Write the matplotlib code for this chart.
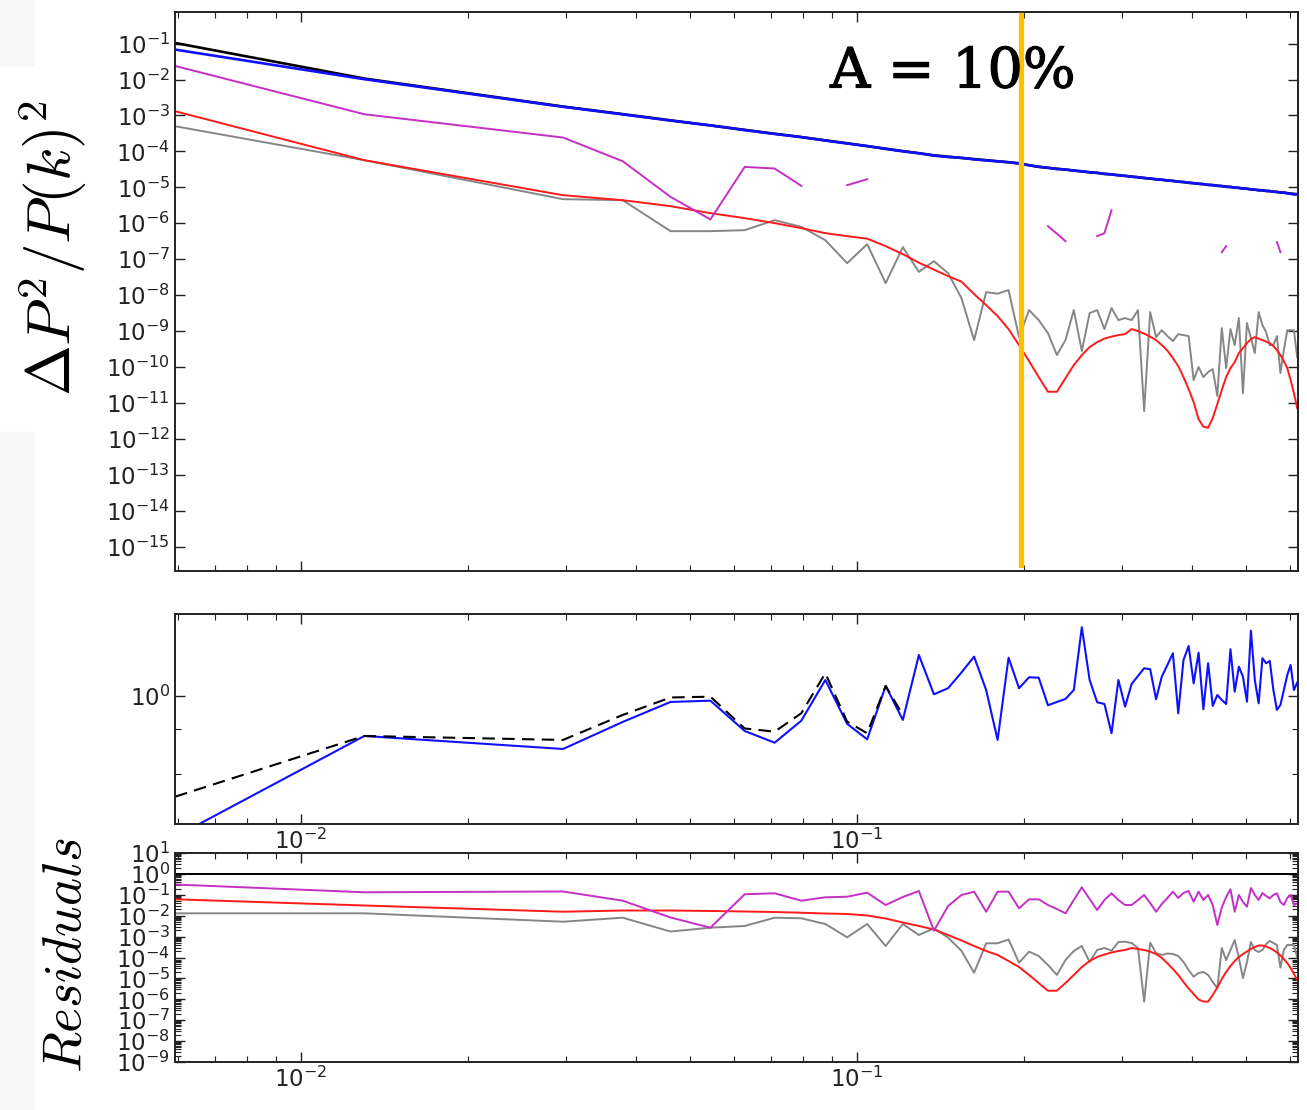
import numpy as np
import matplotlib
matplotlib.use("Agg")
import matplotlib.pyplot as plt
import matplotlib.patheffects as pe
from matplotlib.ticker import FixedLocator, NullLocator, NullFormatter, LogLocator, LogFormatterSciNotation
from matplotlib.patches import Rectangle

NAN = np.nan

# wavenumber bins [h/Mpc]
k = [0.00594, 0.0130, 0.0296, 0.0379, 0.0462, 0.0545, 0.0628, 0.0711, 0.0794, 0.0877,
     0.0960, 0.1043, 0.1126, 0.1209, 0.1292, 0.1375, 0.1458, 0.1541, 0.1624, 0.1707,
     0.1790, 0.1873, 0.1956, 0.2039, 0.2122, 0.2205, 0.2288, 0.2371, 0.2454, 0.2537,
     0.2620, 0.2703, 0.2786, 0.2869, 0.2952, 0.3035, 0.3118, 0.3201, 0.3284, 0.3367,
     0.3450, 0.3533, 0.3616, 0.3699, 0.3782, 0.3865, 0.3948, 0.4031, 0.4114, 0.4197,
     0.4280, 0.4363, 0.4446, 0.4529, 0.4612, 0.4695, 0.4778, 0.4861, 0.4944, 0.5027,
     0.5110, 0.5193, 0.5276, 0.5359, 0.5442, 0.5525, 0.5608, 0.5691, 0.5774, 0.5857,
     0.5940, 0.6023, 0.6106, 0.6189]

# fractional variance of the power spectrum
var_black = [1.04e-1, 1.064e-2, 1.77e-3, 1.09e-3, 7.31e-4, 5.27e-4, 3.98e-4, 3.10e-4, 2.51e-4, 2.03e-4,
             1.68e-4, 1.40e-4, 1.19e-4, 1.02e-4, 8.89e-5, 7.78e-5, 7.11e-5, 6.59e-5, 6.10e-5, 5.69e-5,
             5.30e-5, 4.97e-5, 4.66e-5, 4.13e-5, 3.70e-5, 3.49e-5, 3.30e-5, 3.11e-5, 2.94e-5, 2.77e-5,
             2.64e-5, 2.51e-5, 2.38e-5, 2.28e-5, 2.18e-5, 2.07e-5, 1.99e-5, 1.90e-5, 1.83e-5, 1.75e-5,
             1.68e-5, 1.62e-5, 1.56e-5, 1.50e-5, 1.44e-5, 1.40e-5, 1.35e-5, 1.30e-5, 1.26e-5, 1.22e-5,
             1.18e-5, 1.15e-5, 1.11e-5, 1.08e-5, 1.05e-5, 1.02e-5, 9.9e-6, 9.6e-6, 9.3e-6, 9.1e-6,
             8.8e-6, 8.6e-6, 8.4e-6, 8.2e-6, 8.0e-6, 7.8e-6, 7.6e-6, 7.4e-6, 7.2e-6, 7.1e-6,
             6.9e-6, 6.7e-6, 6.6e-6, 6.4e-6]

var_blue = [6.8e-2, 1.02e-2, 1.74e-3, 1.07e-3, 7.2e-4, 5.3e-4, 3.9e-4, 3.05e-4, 2.49e-4, 2.0e-4,
            1.66e-4, 1.41e-4, 1.17e-4, 1.0e-4, 8.9e-5, 7.6e-5, 7.0e-5, 6.6e-5, 6.0e-5, 5.6e-5,
            5.3e-5, 5.0e-5, 4.6e-5, 4.1e-5, 3.75e-5, 3.5e-5, 3.2e-5, 3.15e-5, 2.9e-5, 2.8e-5,
            2.6e-5, 2.55e-5, 2.35e-5, 2.3e-5, 2.15e-5, 2.1e-5, 1.97e-5, 1.92e-5, 1.8e-5, 1.77e-5,
            1.66e-5, 1.64e-5, 1.54e-5, 1.52e-5, 1.43e-5, 1.41e-5, 1.33e-5, 1.31e-5, 1.25e-5, 1.23e-5,
            1.16e-5, 1.16e-5, 1.10e-5, 1.09e-5, 1.03e-5, 1.03e-5, 9.7e-6, 9.7e-6, 9.2e-6, 9.2e-6,
            8.7e-6, 8.7e-6, 8.2e-6, 8.3e-6, 7.9e-6, 7.9e-6, 7.5e-6, 7.5e-6, 7.1e-6, 7.2e-6,
            6.8e-6, 6.6e-6, 6.3e-6, 6.5e-6]

var_red = [1.31e-3, 5.69e-5, 6.04e-6, 4.39e-6, 2.99e-6, 1.91e-6, 1.39e-6, 1.01e-6, 7.31e-7, 5.31e-7,
           4.38e-7, 3.73e-7, 2.31e-7, 1.38e-7, 8.02e-8, 5.13e-8, 3.38e-8, 2.38e-8, 1.07e-8, 5.28e-9,
           2.61e-9, 1.14e-9, 4.07e-10, 1.46e-10, 5.25e-11, 2.05e-11, 2.05e-11, 4.92e-11, 1.13e-10, 2.15e-10,
           3.58e-10, 4.93e-10, 6.18e-10, 7.02e-10, 7.73e-10, 8.24e-10, 1.14e-9, 9.98e-10, 8.51e-10, 7.02e-10,
           5.61e-10, 4.07e-10, 2.86e-10, 1.77e-10, 1.06e-10, 5.25e-11, 2.43e-11, 1.06e-11, 3.56e-12, 2.18e-12,
           2.04e-12, 3.80e-12, 9.31e-12, 2.28e-11, 5.25e-11, 9.33e-11, 1.37e-10, 2.44e-10, 3.36e-10, 4.63e-10,
           5.98e-10, 6.80e-10, 6.18e-10, 5.61e-10, 5.10e-10, 4.63e-10, 3.82e-10, 2.96e-10, 2.15e-10, 1.46e-10,
           9.33e-11, 4.34e-11, 1.88e-11, 7.21e-12]

var_gray = [5.01e-4, 5.69e-5, 4.68e-6, 4.39e-6, 6.03e-7, 6.03e-7, 6.43e-7, 1.22e-6, 7.94e-7, 3.39e-7,
            7.76e-8, 2.62e-7, 2.16e-8, 2.16e-7, 4.45e-8, 8.83e-8, 4.09e-8, 8.26e-9, 5.61e-10, 1.21e-8,
            1.10e-8, 1.38e-8, 6.80e-10, 3.83e-9, 2.02e-9, 8.79e-10, 2.15e-10, 5.61e-10, 3.83e-9, 2.77e-10,
            3.16e-9, 3.83e-9, 1.14e-9, 4.36e-9, 2.02e-9, 2.30e-9, 2.02e-9, 3.83e-9, 5.94e-12, 3.37e-9,
            6.80e-10, 1.06e-9, 7.25e-10, 5.26e-10, 8.24e-10, 7.73e-10, 7.25e-10, 4.34e-11, 9.95e-11, 5.25e-11,
            7.23e-11, 8.75e-11, 1.56e-11, 1.21e-9, 9.33e-11, 1.14e-9, 4.07e-10, 2.30e-9, 1.88e-11, 1.67e-9,
            6.38e-10, 2.44e-10, 3.37e-9, 1.47e-9, 9.36e-10, 4.07e-10, 4.07e-10, 7.25e-10, 6.78e-11, 2.96e-10,
            1.06e-9, 1.06e-9, 1.06e-9, 1.89e-10]

var_magenta = ([2.38e-2, 1.08e-3, 2.43e-4, 5.33e-5, 5.42e-6, 1.28e-6, 3.70e-5, 3.34e-5, 1.10e-5, NAN,
                1.15e-5, 1.68e-5] + [NAN] * 13 +
               [8.30e-7, 5.14e-7, 3.18e-7] + [NAN] * 3 +
               [4.38e-7, 5.31e-7, 2.31e-6] + [NAN] * 19 +
               [1.57e-7, 2.31e-7] + [NAN] * 12 +
               [2.98e-7, 1.57e-7] + [NAN] * 5)

# ratio panel
ratio_blue = [0.115, 0.541, 0.443, 0.671, 0.912, 0.930, 0.584, 0.488, 0.684, 1.278,
              0.651, 0.514, 1.166, 0.692, 1.876, 1.026, 1.126, 1.434, 1.828, 1.096,
              0.509, 1.80, 1.126, 1.332, 1.324, 0.867, 0.912, 0.955, 1.096, 2.871,
              1.28, 0.908, 0.884, 0.564, 1.278, 0.849, 1.202, 1.359, 1.53, 1.507,
              0.951, 1.345, 1.61, 1.926, 0.767, 1.738, 2.154, 1.215, 1.944, 0.815,
              1.652, 0.858, 1.015, 0.94, 0.884, 2.048, 1.068, 1.568, 1.345, 0.916,
              2.725, 1.278, 0.894, 1.784, 1.652, 1.711, 1.096, 0.807, 0.871, 1.096,
              1.38, 1.61, 1.096, 1.227]
ratio_dashed = [0.213, 0.541, 0.509, 0.747, 0.977, 0.989, 0.607, 0.578, 0.767, 1.417,
                0.674, 0.564, 1.166, 0.747]

# residuals panel
res_magenta = [0.311, 0.132, 0.144, 0.0522, 8.2e-3, 2.67e-3, 0.106, 0.118, 0.0522, 0.0759,
               0.0811, 0.126, 0.0325, 0.0785, 0.152, 1.91e-3, 0.0291, 0.0978, 0.141, 0.0155,
               0.141, 0.141, 0.0226, 0.0609, 0.0609, 0.0325, 0.0209, 0.013, 0.0564, 0.229,
               0.063, 0.0187, 0.0564, 0.118, 0.0564, 0.0325, 0.0325, 0.0564, 0.0978, 0.0405,
               0.0155, 0.0363, 0.0703, 0.141, 0.0703, 0.122, 0.152, 0.0468, 0.141, 0.0564,
               0.0978, 0.0325, 3.59e-3, 0.0252, 0.0785, 0.183, 0.0155, 0.0978, 0.0453, 0.027,
               0.211, 0.0978, 0.0564, 0.122, 0.0877, 0.068, 0.0978, 0.118, 0.0453, 0.0325,
               0.0703, 0.0978, 0.0325, 0.0392]
res_red = [0.0609, 0.0308, 0.0155, 0.0177, 0.0177, 0.0168, 0.0159, 0.015, 0.0139, 0.0127,
           0.0121, 0.0102, 7.35e-3, 4.73e-3, 3.22e-3, 2.19e-3, 1.19e-3, 6.51e-4, 3.55e-4, 2.05e-4,
           1.32e-4, 6.81e-5, 3.51e-5, 1.46e-5, 6.03e-6, 2.58e-6, 2.58e-6, 6.03e-6, 1.46e-5, 3.51e-5,
           6.81e-5, 1.06e-4, 1.39e-4, 1.73e-4, 2.05e-4, 2.29e-4, 2.85e-4, 2.55e-4, 2.29e-4, 1.90e-4,
           1.47e-4, 9.46e-5, 5.27e-5, 2.82e-5, 1.46e-5, 6.73e-6, 3.29e-6, 1.79e-6, 9.78e-7, 7.85e-7,
           7.67e-7, 1.61e-6, 3.67e-6, 9.36e-6, 2.02e-5, 3.92e-5, 6.81e-5, 1.06e-4, 1.47e-4, 1.94e-4,
           2.55e-4, 3.18e-4, 3.75e-4, 3.75e-4, 3.36e-4, 2.85e-4, 2.29e-4, 1.73e-4, 1.25e-4, 8.47e-5,
           5.46e-5, 3.15e-5, 1.63e-5, 8.38e-6]
res_gray = [0.013, 0.013, 5.16e-3, 8.02e-3, 1.75e-3, 2.67e-3, 3.22e-3, 8.02e-3, 7.51e-3, 4.01e-3,
            9.27e-4, 4.01e-3, 3.55e-4, 4.01e-3, 1.19e-3, 2.49e-3, 8.95e-4, 2.09e-4, 1.87e-5, 4.78e-4,
            4.78e-4, 7.26e-4, 5.64e-5, 1.90e-4, 1.18e-4, 4.38e-5, 1.46e-5, 7.59e-5, 2.05e-4, 3.55e-4,
            6.10e-5, 2.29e-4, 2.85e-4, 2.11e-4, 5.52e-4, 5.70e-4, 4.94e-4, 2.85e-4, 7.67e-7, 5.11e-4,
            1.64e-4, 1.32e-4, 1.55e-4, 1.47e-4, 1.18e-4, 6.10e-5, 2.52e-5, 1.21e-5, 1.81e-5, 2.02e-5,
            1.46e-5, 6.73e-6, 3.36e-6, 2.85e-4, 7.59e-5, 2.29e-4, 6.87e-4, 9.46e-5, 1.04e-5, 6.10e-5,
            5.52e-4, 2.29e-4, 1.83e-4, 2.29e-4, 4.43e-4, 6.15e-4, 4.94e-4, 3.96e-4, 3.25e-5, 2.29e-4,
            3.96e-4, 3.96e-4, 3.96e-4, 1.02e-4]
res_unity = 1.0

k_cut = 0.197

C_GRAY = "#868686"
C_MAG = "#c42fc4"
C_RED = "#ff1a1a"
C_BLUE = "#1010ff"
C_ORANGE = "#ffc000"

plt.rcParams["mathtext.fontset"] = "dejavusans"
plt.rcParams["font.family"] = "DejaVu Sans"

fig = plt.figure(figsize=(13.07, 11.10), dpi=100)
fig.patch.set_facecolor("white")

# light panels at the left margin
fig.patches.append(Rectangle((0, 1 - 65 / 1110), 33 / 1307, 65 / 1110,
                             transform=fig.transFigure, color="#f6f6f6", zorder=-5))
fig.patches.append(Rectangle((0, 0), 33 / 1307, 1 - 432 / 1110,
                             transform=fig.transFigure, color="#f6f6f6", zorder=-5))

left, width = 175 / 1307, 1123 / 1307
ax1 = fig.add_axes([left, 1 - 571 / 1110, width, 559 / 1110])
ax2 = fig.add_axes([left, 1 - 824 / 1110, width, 210 / 1110])
ax3 = fig.add_axes([left, 1 - 1062 / 1110, width, 209 / 1110])

XLIM = (0.005935, 0.621)


def style(ax):
    ax.set_xscale("log")
    ax.set_yscale("log")
    ax.set_xlim(*XLIM)
    ax.tick_params(which="both", direction="in", top=True, right=True,
                   labelsize=16.5, colors="#222222")
    ax.tick_params(which="major", length=7, width=1.0)
    ax.tick_params(which="minor", length=4, width=0.8)
    for s in ax.spines.values():
        s.set_linewidth(1.4)
        s.set_color("#222222")
    ax.xaxis.set_major_locator(FixedLocator([1e-2, 1e-1]))
    ax.xaxis.set_minor_locator(LogLocator(base=10, subs=np.arange(2, 10)))
    ax.xaxis.set_minor_formatter(NullFormatter())


for ax in (ax1, ax2, ax3):
    style(ax)

# top panel: variance
ax1.plot(k, var_black, color="k", lw=1.9)
ax1.plot(k, var_blue, color=C_BLUE, lw=1.9)
ax1.plot(k, var_gray, color=C_GRAY, lw=1.4)
ax1.plot(k, var_red, color=C_RED, lw=1.4)
ax1.plot(k, var_magenta, color=C_MAG, lw=1.4)
ax1.axvline(k_cut, ymin=0.011, ymax=0.995, color=C_ORANGE, lw=3.8, zorder=5)
ax1.set_ylim(2.11e-16, 0.756)
ax1.yaxis.set_major_locator(FixedLocator([10.0 ** e for e in range(-15, 0)]))
ax1.yaxis.set_minor_locator(NullLocator())
ax1.tick_params(labelbottom=False)

# middle panel: ratio
ax2.plot(k, ratio_blue, color=C_BLUE, lw=1.5)
ax2.plot(k[:len(ratio_dashed)], ratio_dashed, color="k", lw=1.5, dashes=(6, 3.5))
ax2.set_ylim(0.140, 3.52)
ax2.yaxis.set_major_locator(FixedLocator([1.0]))
ax2.yaxis.set_major_formatter(LogFormatterSciNotation())
ax2.yaxis.set_minor_locator(FixedLocator([0.3, 0.6]))
ax2.yaxis.set_minor_formatter(NullFormatter())

# bottom panel: residuals
ax3.axhline(res_unity, color="k", lw=1.4)
ax3.plot(k, res_gray, color=C_GRAY, lw=1.4)
ax3.plot(k, res_red, color=C_RED, lw=1.4)
ax3.plot(k, res_magenta, color=C_MAG, lw=1.4)
ax3.set_ylim(1e-9, 1e1)
ax3.yaxis.set_major_locator(FixedLocator([10.0 ** e for e in range(-9, 2)]))
ax3.yaxis.set_minor_locator(LogLocator(base=10, subs=np.arange(2, 10), numticks=30))
ax3.yaxis.set_minor_formatter(NullFormatter())

fig.text(0.040, 0.776, r"$\Delta P^2/P(k)^2$", rotation=90, fontsize=44,
         math_fontfamily="cm", ha="center", va="center")
fig.text(0.050, 0.1396, r"$Residuals$", rotation=90, fontsize=38.5,
         math_fontfamily="cm", ha="center", va="center")
fig.text(0.729, 0.935, "A = 10%", fontsize=40, family="DejaVu Serif",
         ha="center", va="center",
         path_effects=[pe.withStroke(linewidth=0.8, foreground="black")])

fig.savefig("out.png", dpi=100, facecolor="white")
